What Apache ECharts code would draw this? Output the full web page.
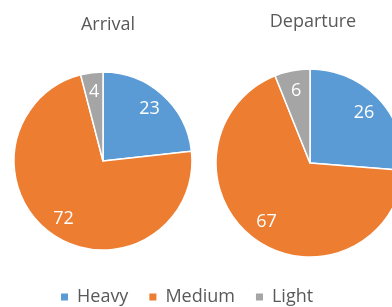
<!DOCTYPE html>
<html>
<head>
<meta charset="utf-8">
<script src="https://cdn.jsdelivr.net/npm/echarts@6/dist/echarts.min.js"></script>
<style>
  html, body { margin: 0; padding: 0; background: #fff; }
  #chart { width: 392px; height: 307px; }
</style>
</head>
<body>
<div id="chart"></div>
<script>
// 数据
const categories = ['Heavy', 'Medium', 'Light'];
const arrivalValues = [23, 72, 4];
const departureValues = [26, 67, 6];
const colors = ['#5B9BD5', '#ED7D31', '#A5A5A5'];

const chart = echarts.init(document.getElementById('chart'));

function toData(values) {
  return categories.map((name, i) => ({ name: name, value: values[i] }));
}

// 可见的饼图（无标签）
function piePart(values, center, r) {
  return {
    type: 'pie',
    center: center,
    radius: [0, r],
    startAngle: 90,
    clockwise: true,
    silent: true,
    itemStyle: { borderColor: '#fff', borderWidth: 1.5 },
    label: { show: false },
    labelLine: { show: false },
    data: toData(values)
  };
}

// 透明叠加层，只用来把标签放到约 0.75r 处
function labelPart(values, center, r) {
  return {
    type: 'pie',
    center: center,
    radius: [r * 0.5, r],
    startAngle: 90,
    clockwise: true,
    silent: true,
    itemStyle: { color: 'rgba(0,0,0,0)', borderWidth: 0 },
    label: {
      show: true,
      position: 'inside',
      color: '#fff',
      fontSize: 18,
      fontFamily: 'Open Sans',
      formatter: '{c}'
    },
    labelLine: { show: false },
    emphasis: { disabled: true },
    data: toData(values)
  };
}

const option = {
  color: colors,
  animation: false,
  title: [
    {
      text: 'Arrival',
      left: 103, top: 11,
      textAlign: 'center',
      textStyle: { color: '#595959', fontSize: 18, fontWeight: 'normal', fontFamily: 'Open Sans' }
    },
    {
      text: 'Departure',
      left: 308, top: 8,
      textAlign: 'center',
      textStyle: { color: '#595959', fontSize: 18, fontWeight: 'normal', fontFamily: 'Open Sans' }
    }
  ],
  legend: {
    left: 54,
    top: 283,
    itemWidth: 9,
    itemHeight: 9,
    itemGap: 19,
    icon: 'rect',
    data: categories.map((name, i) => ({ name: name, itemStyle: { color: colors[i] } })),
    textStyle: { color: '#595959', fontSize: 18, fontFamily: 'Open Sans', padding: [0, 0, 0, 3] }
  },
  series: [
    piePart(arrivalValues, [103, 161], 89),
    piePart(departureValues, [310, 163], 94),
    labelPart(arrivalValues, [103, 161], 89),
    labelPart(departureValues, [310, 163], 94)
  ]
};

chart.setOption(option);
</script>
</body>
</html>
